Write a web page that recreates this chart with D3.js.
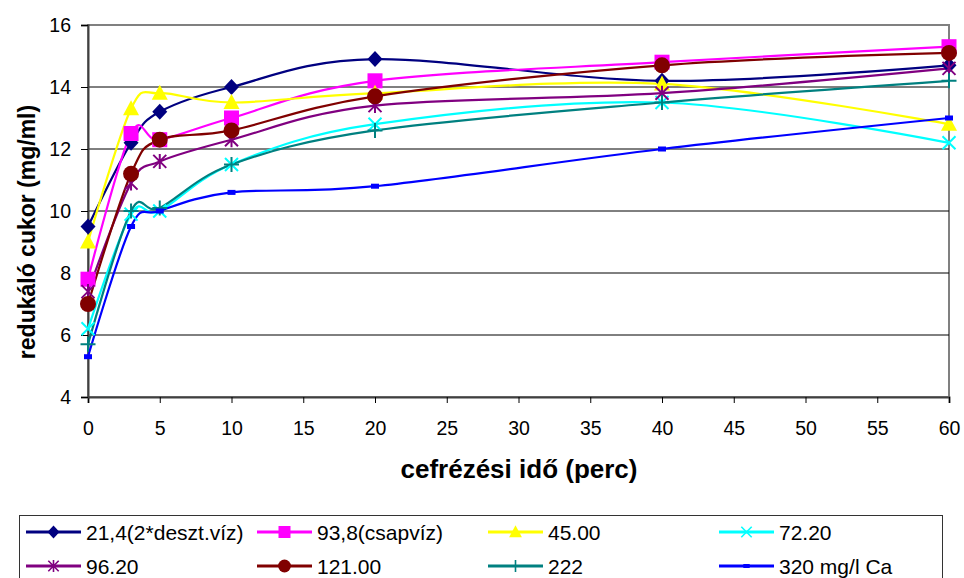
<!DOCTYPE html>
<html><head><meta charset="utf-8">
<script src="https://cdn.jsdelivr.net/npm/d3@7"></script>
<style>body{margin:0;background:#fff}svg{display:block;font-family:"Liberation Sans",Arial,sans-serif}</style>
</head><body><svg id="c" width="964" height="578"></svg>
<script>
const times = [0, 3, 5, 10, 20, 40, 60];
const seriesNames = ["21,4(2*deszt.víz)", "93,8(csapvíz)", "45.00", "72.20", "96.20", "121.00", "222", "320 mg/l Ca"];
const s1 = [9.5, 12.2, 13.2, 14.0, 14.9, 14.2, 14.7];
const s2 = [7.8, 12.5, 12.3, 13.0, 14.2, 14.8, 15.3];
const s3 = [9.0, 13.3, 13.8, 13.5, 13.8, 14.1, 12.8];
const s4 = [6.2, 9.9, 10.0, 11.5, 12.8, 13.5, 12.2];
const s5 = [7.4, 10.9, 11.6, 12.3, 13.4, 13.8, 14.6];
const s6 = [7.0, 11.2, 12.3, 12.6, 13.7, 14.7, 15.1];
const s7 = [5.7, 10.0, 10.1, 11.5, 12.6, 13.5, 14.2];
const s8 = [5.3, 9.5, 10.0, 10.6, 10.8, 12.0, 13.0];
const seriesValues = [s1, s2, s3, s4, s5, s6, s7, s8];
const xTicks = [0, 5, 10, 15, 20, 25, 30, 35, 40, 45, 50, 55, 60];
const yTicks = [4, 6, 8, 10, 12, 14, 16];
const colors = ["#000080", "#ff00ff", "#ffff00", "#00ffff", "#800080", "#800000", "#008080", "#0000ff"];
const markers = ["diamond", "square", "triangle", "x", "asterisk", "circle", "plus", "dash"];

const svg = d3.select("#c");
const L = 88, R = 949, T = 25, B = 397;
const x = d3.scaleLinear().domain([0, 60]).range([L, R]);
const y = d3.scaleLinear().domain([4, 16]).range([B, T]);

svg.append("rect").attr("x", L).attr("y", T).attr("width", R - L).attr("height", B - T)
  .attr("fill", "none").attr("stroke", "#808080").attr("stroke-width", 2);
svg.append("g").selectAll("line").data(yTicks.filter(v => v > 4 && v < 16)).join("line")
  .attr("x1", L).attr("x2", R).attr("y1", d => y(d)).attr("y2", d => y(d))
  .attr("stroke", "#000").attr("stroke-width", 1);

const xAxis = svg.append("g").attr("transform", `translate(0,${B})`)
  .call(d3.axisBottom(x).tickValues(xTicks).tickSize(6).tickPadding(18));
const yAxis = svg.append("g").attr("transform", `translate(${L},0)`)
  .call(d3.axisLeft(y).tickValues(yTicks).tickSize(7).tickPadding(10));
[xAxis, yAxis].forEach(a => {
  a.select(".domain").attr("stroke", "#404040").attr("stroke-width", 2);
  a.selectAll(".tick line").attr("stroke", "#000");
  a.selectAll("text").attr("font-size", 19.5).attr("fill", "#000").attr("font-family", "Liberation Sans, Arial, sans-serif");
});

svg.append("text").attr("x", 519).attr("y", 478).attr("text-anchor", "middle")
  .attr("font-size", 26).attr("font-weight", "bold").text("cefrézési idő (perc)");
svg.append("text").attr("transform", "translate(35,232) rotate(-90)").attr("text-anchor", "middle")
  .attr("font-size", 23).attr("font-weight", "bold").text("redukáló cukor (mg/ml)");

function drawMarker(g, type, color, cx, cy, s) {
  s = s || 1;
  const m = g.append("g").attr("transform", `translate(${cx},${cy}) scale(${s})`);
  if (type === "diamond") m.append("path").attr("d", "M0,-8L7.5,0L0,8L-7.5,0Z").attr("fill", color);
  else if (type === "square") m.append("rect").attr("x", -7.5).attr("y", -7.5).attr("width", 15).attr("height", 15).attr("fill", color);
  else if (type === "triangle") m.append("path").attr("d", "M0,-8.5L8,6.5L-8,6.5Z").attr("fill", color);
  else if (type === "circle") m.append("circle").attr("r", 8).attr("fill", color);
  else if (type === "x") m.append("path").attr("d", "M-6.5,-6.5L6.5,6.5M-6.5,6.5L6.5,-6.5").attr("stroke", color).attr("stroke-width", 2);
  else if (type === "asterisk") m.append("path").attr("d", "M-6.5,-6.5L6.5,6.5M-6.5,6.5L6.5,-6.5M0,-7.5L0,7.5").attr("stroke", color).attr("stroke-width", 2);
  else if (type === "plus") m.append("path").attr("d", "M-7.5,0L7.5,0M0,-7.5L0,7.5").attr("stroke", color).attr("stroke-width", 2);
  else if (type === "dash") m.append("rect").attr("x", -4).attr("y", -2.5).attr("width", 8).attr("height", 5).attr("fill", color);
}

const line = d3.line().x(d => x(d[0])).y(d => y(d[1])).curve(d3.curveCardinal.tension(0));
const plot = svg.append("g");
seriesValues.forEach((vals, i) => {
  const pts = times.map((t, j) => [t, vals[j]]);
  plot.append("path").datum(pts).attr("d", line).attr("fill", "none")
    .attr("stroke", colors[i]).attr("stroke-width", 2.2);
});
seriesValues.forEach((vals, i) => {
  times.forEach((t, j) => drawMarker(plot, markers[i], colors[i], x(t), y(vals[j])));
});

svg.append("rect").attr("x", 19.5).attr("y", 515.5).attr("width", 923).attr("height", 80)
  .attr("fill", "none").attr("stroke", "#333").attr("stroke-width", 1);
const colX = [26, 257, 488, 719];
const rowY = [532, 566];
seriesNames.forEach((name, i) => {
  const c = i % 4, r = Math.floor(i / 4);
  const x0 = colX[c], yy = rowY[r];
  const lw = 55;
  const lg = svg.append("g");
  lg.append("line").attr("x1", x0).attr("x2", x0 + lw).attr("y1", yy).attr("y2", yy)
    .attr("stroke", colors[i]).attr("stroke-width", 3);
  drawMarker(lg, markers[i], colors[i], x0 + lw / 2, yy, 0.8);
  lg.append("text").attr("x", x0 + lw + 5).attr("y", yy + 7.5).attr("font-size", 21).text(name);
});
</script></body></html>
